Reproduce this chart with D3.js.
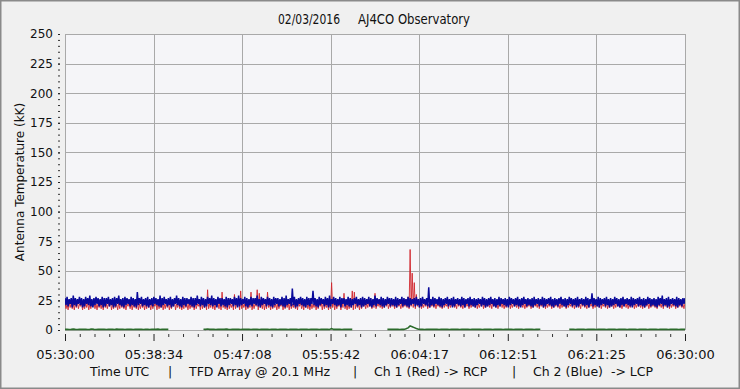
<!DOCTYPE html>
<html><head><meta charset="utf-8">
<script src="https://cdn.jsdelivr.net/npm/d3@7"></script>
<style>
html,body{margin:0;padding:0;background:#f0f0f0;}
svg{display:block;}
text{font-family:"DejaVu Sans",Verdana,sans-serif;fill:#111;}
</style></head>
<body>
<svg id="c" width="740" height="389"></svg>
<script>
// ---------- data ----------
const dateLabel = "02/03/2016";
const stationLabel = "AJ4CO Observatory";
const yLabel = "Antenna Temperature (kK)";
const footerParts = ["Time UTC", "|", "TFD Array @ 20.1 MHz", "|", "Ch 1 (Red) -> RCP", "|", "Ch 2 (Blue)  -> LCP"];
const xTickLabels = ["05:30:00","05:38:34","05:47:08","05:55:42","06:04:17","06:12:51","06:21:25","06:30:00"];
const yTickValues = [0,25,50,75,100,125,150,175,200,225,250];
const sampleStepSec = 12; // one max/min pair every 12 s from 05:30:00

// Ch 2 (Blue) -> LCP : per-interval maximum and minimum
const blueMax = [
27,28,26,27,29,27,26,28,27,26,28,27,29,26,27,28,27,26,28,27,
27,28,26,27,28,27,29,26,27,28,27,26,28,27,26,32,27,28,26,27,
28,26,27,28,27,26,29,27,28,26,27,28,26,27,29,27,26,28,27,27,
26,28,27,27,29,26,28,27,26,28,27,29,27,26,28,27,27,26,28,27,
27,26,28,27,29,27,26,28,27,26,28,27,27,29,26,28,27,26,28,27,
26,28,27,27,26,28,27,29,26,27,35,28,26,27,28,27,26,28,27,27,
33,27,26,28,27,26,28,27,29,26,28,27,26,28,27,27,26,28,27,26,
27,28,26,27,28,27,26,28,27,26,29,27,26,28,27,26,28,27,27,26,
28,27,26,28,27,26,28,27,26,27,28,26,27,28,26,27,36,26,28,27,
26,28,27,26,27,28,26,27,28,26,27,26,28,27,26,27,28,26,27,26,
27,26,28,27,26,27,28,26,27,26,28,27,26,27,26,28,27,26,27,28,
26,27,28,26,27,26,27,28,26,27,26,28,27,26,27,28,26,27,26,27,
28,26,27,26,28,27,26,27,28,26,27,26,28,27,26,31,27,26,28,27,
26,27,28,26,27,26,28,27,26,27,28,26,27,26,28,27,26,27,28,26,
27,26,28,27,26,27,26,28,27,29,26,27,28,26,27,26,28,27,26,27,
27];
const blueMin = [
21,20,22,19,21,20,22,21,19,20,22,21,20,19,21,22,20,21,19,20,
22,20,21,19,20,22,21,20,19,21,22,20,21,20,19,21,22,20,21,20,
19,21,20,22,21,20,19,21,22,20,21,19,20,22,21,20,19,21,20,22,
21,20,19,21,22,20,21,19,20,22,21,20,21,19,22,20,21,20,19,21,
22,20,21,19,20,21,22,20,19,21,20,22,21,20,19,21,22,20,21,20,
19,21,22,20,21,20,19,21,22,20,21,19,20,22,21,20,19,21,20,22,
21,20,19,21,22,20,21,19,20,22,21,20,21,19,22,20,21,20,19,21,
22,20,21,19,20,21,22,20,19,21,20,22,21,20,19,21,22,20,21,20,
19,21,22,20,21,20,19,21,22,20,21,19,20,22,21,20,19,21,20,22,
21,20,19,21,22,20,21,19,20,22,21,20,21,19,22,20,21,20,19,21,
22,20,21,19,20,21,22,20,19,21,20,22,21,20,19,21,22,20,21,20,
19,21,22,20,21,20,19,21,22,20,21,19,20,22,21,20,19,21,20,22,
21,20,19,21,22,20,21,19,20,22,21,20,21,19,22,20,21,20,19,21,
22,20,21,19,20,21,22,20,19,21,20,22,21,20,19,21,22,20,21,20,
19,21,22,20,21,20,19,21,22,20,21,19,20,22,21,20,19,21,20,22,
21];

// Ch 1 (Red) -> RCP : per-interval maximum and minimum
const redMax = [
23,22,24,23,22,23,24,22,23,22,24,23,22,23,24,22,23,22,23,24,
22,23,24,22,23,22,23,24,22,23,22,24,23,22,23,24,22,23,22,23,
24,22,23,22,23,24,22,23,22,24,23,22,23,24,22,23,22,23,24,22,
23,22,24,23,22,23,24,22,23,34,22,24,23,22,23,24,32,22,23,24,
22,23,30,22,24,33,23,22,24,23,32,22,23,34,31,22,24,23,32,22,
23,24,22,23,22,24,23,22,23,24,22,23,22,24,23,22,23,24,22,23,
22,24,23,22,23,24,22,23,22,40,24,23,22,23,24,31,22,23,24,33,
32,23,22,24,23,22,23,24,22,23,31,22,24,23,22,23,24,22,23,22,
24,23,22,23,24,26,28,68,48,40,30,24,23,22,23,24,22,23,22,24,
23,22,24,23,22,23,24,22,23,22,24,23,22,23,24,22,23,22,23,24,
22,23,24,22,23,22,23,24,22,23,22,24,23,22,23,24,22,23,22,23,
24,22,23,22,23,24,22,23,22,24,23,22,23,24,22,23,22,23,24,22,
23,22,24,23,22,23,24,22,23,22,24,23,22,23,24,22,23,22,23,24,
22,23,24,22,23,22,23,24,22,23,22,24,23,22,23,24,22,23,22,23,
24,22,23,22,23,24,22,23,22,24,23,22,23,24,22,23,22,23,24,22,
23];
const redMin = [
18,17,19,18,17,19,18,20,17,18,19,17,18,20,18,17,19,18,17,19,
18,20,17,18,19,17,18,19,18,17,20,18,17,19,18,17,18,19,17,18,
19,17,18,20,17,18,19,17,18,19,17,18,20,17,19,18,17,18,19,17,
18,19,17,18,20,17,18,19,17,18,19,18,17,20,18,17,19,18,17,18,
19,17,18,20,17,18,19,17,18,19,17,18,20,17,19,18,17,18,19,17,
18,19,17,18,20,17,18,19,17,18,19,18,17,20,18,17,19,18,17,18,
19,17,18,20,17,18,19,17,18,19,17,18,20,17,19,18,17,18,19,17,
18,19,17,18,20,18,19,20,18,19,18,20,19,18,19,20,18,19,20,18,
19,20,18,19,20,19,18,20,19,18,20,19,18,19,20,18,19,20,19,18,
20,19,18,19,20,18,19,20,19,18,20,19,18,19,20,18,19,20,19,18,
19,20,18,19,20,19,18,20,19,18,20,19,18,19,20,18,19,20,19,18,
20,19,18,19,20,18,19,20,19,18,20,19,18,19,20,18,19,20,19,18,
19,20,18,19,20,19,18,20,19,18,20,19,18,19,20,18,19,20,19,18,
20,19,18,19,20,18,19,20,19,18,20,19,18,19,20,18,19,20,19,18,
19,20,18,19,20,19,18,20,19,18,20,19,18,19,20,18,19,20,19,18,
19];

// green trace (null = no trace shown)
const greenValues = [
0.5,0.6,0.4,0.5,0.7,0.5,0.4,0.6,0.5,0.5,0.6,0.4,0.5,0.8,0.5,0.4,0.6,0.5,0.5,0.6,
0.4,0.5,0.6,0.5,0.4,0.7,0.5,0.5,0.6,0.4,0.5,0.6,0.5,0.4,0.5,0.6,0.5,0.5,0.4,0.6,
0.5,0.4,0.6,0.5,0.5,0.7,0.4,0.5,0.6,0.5,0.5,null,null,null,null,0.5,null,null,null,null,
0.5,null,null,null,0.5,null,null,0.6,0.5,0.8,0.5,0.6,0.5,0.4,0.5,0.6,0.5,0.5,0.7,0.5,
0.4,0.6,0.5,0.5,0.6,0.4,0.5,0.5,0.6,0.5,0.4,0.6,0.5,0.5,0.4,0.6,0.5,0.5,0.6,0.4,
0.5,0.6,0.5,0.4,0.5,0.6,0.5,0.5,0.4,0.6,0.5,0.5,0.6,0.4,0.5,0.5,0.6,0.5,0.4,0.5,
0.6,0.5,0.5,0.4,0.6,0.5,0.5,0.6,0.4,1.2,0.5,0.6,0.5,0.5,0.4,0.6,0.5,0.5,0.6,0.5,
null,null,null,null,0.5,null,null,null,null,null,0.5,null,null,null,null,null,0.5,0.6,0.5,0.5,
0.6,0.5,0.4,0.6,0.5,1.0,1.8,3.5,2.8,2.0,1.2,0.6,0.5,0.5,0.4,0.6,0.5,0.5,0.6,0.5,
0.5,0.4,0.6,0.5,0.5,0.6,0.4,0.5,0.5,0.6,0.5,0.4,0.6,0.5,0.5,0.6,0.4,0.5,0.5,0.6,
0.5,0.5,0.4,0.6,0.5,0.5,0.6,0.4,0.5,0.5,0.6,0.5,0.4,0.6,0.5,0.5,0.6,0.4,0.5,0.5,
0.6,0.5,0.4,0.6,0.5,0.5,0.6,0.4,0.5,0.5,0.6,null,null,null,null,null,null,0.5,null,null,
null,null,null,null,0.5,0.6,0.5,0.4,0.5,0.6,0.5,0.5,0.4,0.6,0.5,0.5,0.6,0.4,0.5,0.5,
0.6,0.5,0.4,0.6,0.5,0.5,0.6,0.4,0.5,0.5,0.6,0.5,0.4,0.6,0.5,0.5,0.6,0.4,0.5,0.5,
0.6,0.5,0.4,0.6,0.5,0.5,0.6,0.4,0.5,0.5,0.6,0.5,0.4,0.6,0.5,0.5,0.6,0.4,0.5,0.5,
0.5];

// ---------- chart ----------
const W = 740, H = 389;
const M = {left:65, right:55, top:34};
const svg = d3.select("#c");

const t0 = Date.UTC(2016,1,3,5,30,0);
const parseT = s => { const [h,m,sec] = s.split(":").map(Number); return new Date(Date.UTC(2016,1,3,h,m,sec)); };
const majorDates = xTickLabels.map(parseT);
const timeOf = i => new Date(t0 + i*sampleStepSec*1000);

const x = d3.scaleUtc().domain([majorDates[0], majorDates[majorDates.length-1]]).range([M.left, W - M.right]);
const y = d3.scaleLinear().domain([0,250]).range([330, M.top]);
const plotB = y(0), plotT = y(250), plotL = x.range()[0], plotR = x.range()[1];

// frame
svg.append("rect").attr("x",0.75).attr("y",0.75).attr("width",W-1.5).attr("height",H-1.5)
  .attr("fill","#f0f0f0").attr("stroke","#8a8a8a").attr("stroke-width",1.5);
svg.append("rect").attr("x",plotL).attr("y",plotT).attr("width",plotR-plotL).attr("height",plotB-plotT)
  .attr("fill","#f5f5f8");

// grid
const grid = svg.append("g").attr("stroke","#a9a9a9").attr("stroke-width",1).attr("shape-rendering","crispEdges");
grid.selectAll("line.h").data(yTickValues).join("line").attr("class","h")
  .attr("x1",plotL).attr("x2",plotR).attr("y1",d=>Math.round(y(d))+0.5).attr("y2",d=>Math.round(y(d))+0.5);
grid.selectAll("line.v").data(majorDates).join("line").attr("class","v")
  .attr("y1",plotT).attr("y2",plotB).attr("x1",d=>Math.round(x(d))+0.5).attr("x2",d=>Math.round(x(d))+0.5);

// clip
svg.append("clipPath").attr("id","clip").append("rect")
  .attr("x",plotL).attr("y",plotT).attr("width",plotR-plotL).attr("height",plotB-plotT+2);

// envelope points: max at start of each interval, min at its middle
const envelope = (mx, mn) => {
  const pts = [];
  mx.forEach((v,i)=>{
    pts.push([timeOf(i), v]);
    if (i < mx.length-1) pts.push([new Date(+timeOf(i) + sampleStepSec*500), mn[i]]);
  });
  return pts;
};
const envLine = d3.line().x(d=>x(d[0])).y(d=>y(d[1]));
const gLine = d3.line().defined(d=>d!=null).x((d,i)=>x(timeOf(i))).y(d=>y(d));

const lines = svg.append("g").attr("clip-path","url(#clip)").attr("fill","none");
lines.append("path").datum(greenValues).attr("d",gLine).attr("stroke","#2b6b2b").attr("stroke-width",1.6);
lines.append("path").datum(envelope(redMax, redMin)).attr("d",envLine).attr("stroke","#d0262c").attr("stroke-width",0.9);
lines.append("path").datum(envelope(blueMax, blueMin)).attr("d",envLine).attr("stroke","#0a0a9a").attr("stroke-width",1.5);

// y axis
const yMinor = d3.range(0,251,5);
const yAxMinor = svg.append("g").attr("transform",`translate(${plotL-5},0)`)
  .call(d3.axisLeft(y).tickValues(yMinor).tickSize(2).tickFormat(""));
yAxMinor.select(".domain").remove();
yAxMinor.selectAll("line").attr("stroke","#333");
const yAx = svg.append("g").attr("transform",`translate(${plotL-5},0)`)
  .call(d3.axisLeft(y).tickValues(yTickValues).tickSize(2).tickPadding(5));
yAx.select(".domain").remove();
yAx.selectAll("line").attr("stroke","#222");
yAx.selectAll("text").attr("font-size",12).attr("font-family","DejaVu Sans").attr("fill","#111");

// x axis
const xMinor = [];
for (let k=0;k<majorDates.length-1;k++){
  const a=+majorDates[k], b=+majorDates[k+1];
  for (let j=1;j<6;j++) xMinor.push(new Date(a+(b-a)*j/6));
}
const axY = plotB + 4;
const xAxMinor = svg.append("g").attr("transform",`translate(0,${axY})`)
  .call(d3.axisBottom(x).tickValues(xMinor).tickSize(3).tickFormat(""));
xAxMinor.select(".domain").remove();
xAxMinor.selectAll("line").attr("stroke","#333");
const xAx = svg.append("g").attr("transform",`translate(0,${axY})`)
  .call(d3.axisBottom(x).tickValues(majorDates).tickSize(7).tickPadding(9).tickFormat((d,i)=>xTickLabels[i]));
xAx.select(".domain").remove();
xAx.selectAll("line").attr("stroke","#222");
xAx.selectAll("text").attr("font-size",13).attr("font-family","DejaVu Sans").attr("fill","#111");

// title
const title = svg.append("text").attr("y",24).attr("font-family","'DejaVu Sans',sans-serif").attr("font-size",14);
title.append("tspan").attr("x",278).attr("textLength",62).attr("lengthAdjust","spacingAndGlyphs").text(dateLabel);
title.append("tspan").attr("x",358).attr("textLength",112).attr("lengthAdjust","spacingAndGlyphs").text(stationLabel);

// y label
svg.append("text").attr("transform",`translate(24,${(plotT+plotB)/2}) rotate(-90)`)
  .attr("text-anchor","middle").attr("font-size",12).text(yLabel);

// footer
const footerX = [90,168,189,353,374,512,533];
const foot = svg.append("text").attr("y",376).attr("font-size",12.5).style("white-space","pre");
footerParts.forEach((s,i)=>foot.append("tspan").attr("x",footerX[i]).text(s));
</script>
</body></html>
